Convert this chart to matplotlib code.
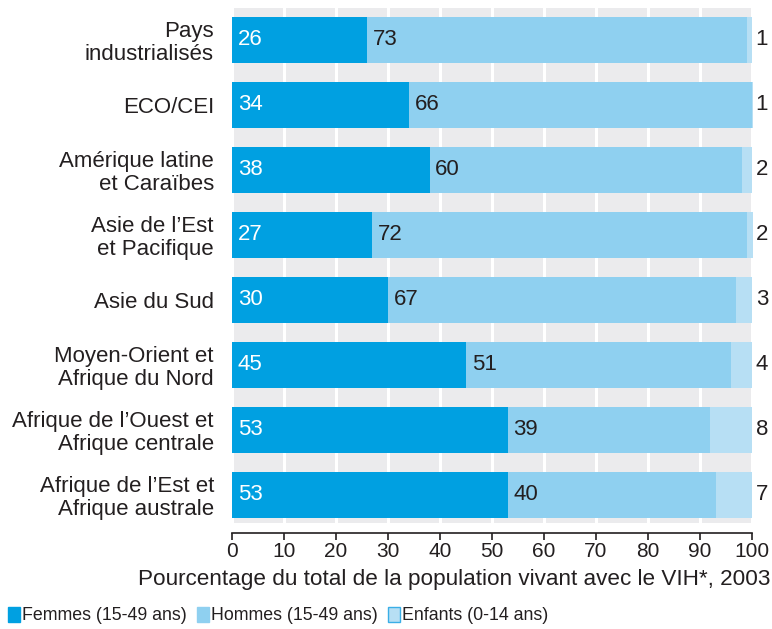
import matplotlib
matplotlib.use("Agg")
import matplotlib.pyplot as plt
from matplotlib.patches import Rectangle
import numpy as np

regions = ["Pays\nindustrialisés", "ECO/CEI", "Amérique latine\net Caraïbes",
           "Asie de l\u2019Est\net Pacifique", "Asie du Sud",
           "Moyen-Orient et\nAfrique du Nord", "Afrique de l\u2019Ouest et\nAfrique centrale",
           "Afrique de l\u2019Est et\nAfrique australe"]
femmes = [26, 34, 38, 27, 30, 45, 53, 53]
hommes = [73, 66, 60, 72, 67, 51, 39, 40]
enfants = [1, 1, 2, 2, 3, 4, 8, 7]
xticks = [0, 10, 20, 30, 40, 50, 60, 70, 80, 90, 100]
xlabel = "Pourcentage du total de la population vivant avec le VIH*, 2003"
legend_labels = ["Femmes (15-49 ans)", "Hommes (15-49 ans)", "Enfants (0-14 ans)"]

C_F = "#00a0e1"
C_H = "#8fd0f0"
C_E = "#b7dff4"
BG = "#ebebed"
TXT = "#231f20"

plt.rcParams['font.family'] = ['Liberation Sans', 'DejaVu Sans']

W, H = 772, 629
fig = plt.figure(figsize=(W / 100, H / 100), dpi=100)
ax = fig.add_axes([232 / W, 1 - 523 / H, (753 - 232) / W, (523 - 8) / H])
ax.set_facecolor(BG)

y = np.arange(len(regions))
bh = 46 / 65
f = np.array(femmes)
h = np.array(hommes)
e = np.array(enfants)
ax.barh(y, f, height=bh, color=C_F, zorder=2)
ax.barh(y, h, left=f, height=bh, color=C_H, zorder=2)
ax.barh(y, e, left=f + h, height=bh, color=C_E, zorder=2)

LBL = 16
for i in range(len(regions)):
    ax.text(1.1, y[i], str(femmes[i]), color="white", va="center", ha="left", fontsize=LBL, zorder=3)
    ax.text(femmes[i] + 1.1, y[i], str(hommes[i]), color=TXT, va="center", ha="left", fontsize=LBL, zorder=3)
    ax.text(101.9, y[i], str(enfants[i]), color=TXT, va="center", ha="center", fontsize=LBL, zorder=3, clip_on=False)

ax.set_xlim(0, 100.2)
ax.set_ylim(7 + 28 / 65, -32 / 65)
ax.set_xticks(xticks)
ax.set_xticklabels([str(t) for t in xticks])
ax.grid(axis="x", color="white", linewidth=2.2, zorder=1)
ax.set_axisbelow(True)
ax.set_yticks(y)
ax.set_yticklabels(regions, linespacing=1.12)
ax.tick_params(axis="y", length=0, pad=13, labelsize=16, labelcolor=TXT)
ax.tick_params(axis="x", length=5, width=1.2, color=TXT, pad=1.5, labelsize=15, labelcolor=TXT)
for s in ["top", "right", "left"]:
    ax.spines[s].set_visible(False)
ax.spines["bottom"].set_position(("outward", 7))
ax.spines["bottom"].set_linewidth(1.2)
ax.spines["bottom"].set_color(TXT)
ax.spines["bottom"].set_bounds(0, 100)

fig.text(770 / W, 1 - 580 / H, xlabel, ha="right", va="center", fontsize=16.2, color=TXT)

# legend
leg_x = [8, 197, 388]
cols = [C_F, C_H, C_E]
for lx, col, lab, idx in zip(leg_x, cols, legend_labels, range(3)):
    ec = "#3aaee6" if idx == 2 else col
    fig.patches.append(Rectangle((lx / W, 1 - 622 / H), 12 / W, 15 / H, transform=fig.transFigure,
                                 facecolor=col, edgecolor=ec, linewidth=1.0))
    fig.text((lx + 14) / W, 1 - 615 / H, lab, ha="left", va="center", fontsize=12.8,
             color=TXT, family=['Liberation Sans', 'DejaVu Sans'])

fig.savefig("out.png", dpi=100)
